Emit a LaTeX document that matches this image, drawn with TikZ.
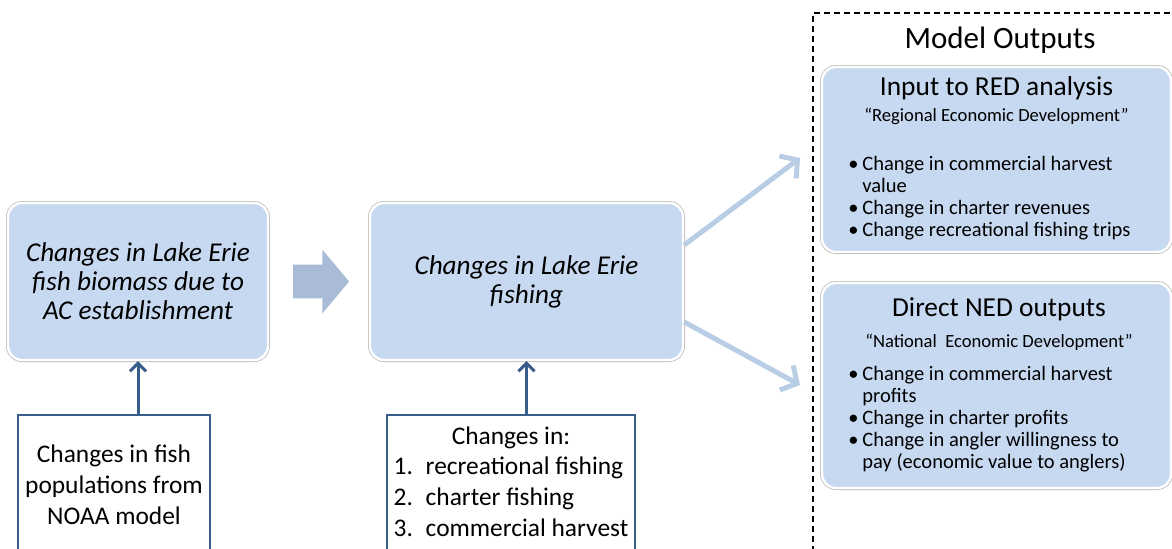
\documentclass[tikz,border=0pt]{standalone}
\usepackage{fontspec}
\setmainfont{Carlito}
\usetikzlibrary{positioning,arrows.meta,shapes.arrows}
\definecolor{paleblue}{HTML}{C6D9F1}
\definecolor{edgeblue}{HTML}{385D8A}
\definecolor{flowblue}{HTML}{B9CDE5}
\definecolor{pushblue}{HTML}{A9BBD7}

\begin{document}
\begin{tikzpicture}[
    x=0.5pt, y=-0.5pt,
    stage/.style={rectangle, rounded corners=7pt, fill=paleblue, draw=white, line width=1.2pt,
      preaction={draw=black!25, line width=2pt}, align=center, inner sep=0pt,
      font=\fontsize{13.6}{14.5}\selectfont\itshape},
    source/.style={rectangle, draw=edgeblue, line width=1.1pt, fill=white, inner sep=0pt,
      font=\fontsize{12.7}{15.5}\selectfont},
    outbox/.style={rectangle, rounded corners=7pt, fill=paleblue, draw=white, line width=1.2pt,
      preaction={draw=black!25, line width=2pt}, inner sep=0pt},
    boxtitle/.style={font=\fontsize{13.7}{16}\selectfont, inner sep=0pt},
    subtitle/.style={font=\fontsize{9.3}{11}\selectfont, inner sep=0pt},
    bullets/.style={font=\fontsize{10.25}{11}\selectfont, align=left, anchor=north west, inner sep=0pt},
    feed/.style={-{Straight Barb[length=4pt,width=8pt]}, edgeblue, line width=1.5pt},
    spread/.style={-{Straight Barb[length=6pt,width=14pt]}, flowblue, line width=2.5pt},
  ]
    \clip (0,0) rectangle (1172,548);
    \newcommand{\pt}[1]{\makebox[7pt][l]{\textbullet}#1}

    % ===== left column: biomass and its NOAA input =====
    \node[stage, minimum width=130pt, minimum height=78.5pt] (biomass) at (138,281.5)
      {Changes in Lake Erie\\fish biomass due to\\AC establishment};
    \node[source, align=center, minimum width=96pt, minimum height=70pt, anchor=north] (noaa) at (114,414)
      {Changes in fish\\populations from\\NOAA model};
    \draw[feed] (biomass.south |- noaa.north) -- (biomass.south);

    % fat arrow between the two stages
    \node[single arrow, fill=pushblue, minimum height=28pt, inner xsep=0pt, inner ysep=8.25pt,
      single arrow head extend=7.5pt, single arrow tip angle=100] (push) at (314,281.5) {};

    % ===== middle column: fishing =====
    \node[stage, minimum width=156.5pt, minimum height=78.5pt] (fishing) at (526.5,281.5)
      {Changes in Lake Erie\\fishing};
    \node[source, minimum width=124pt, minimum height=69pt, anchor=north,
      font=\fontsize{12.7}{15.3}\selectfont] (effort) at (511,414)
      {\begin{tabular}{@{}l@{}l@{}}
         \multicolumn{2}{c}{Changes in:}\\
         \makebox[16pt][l]{1.} & recreational fishing\\
         \makebox[16pt][l]{2.} & charter fishing\\
         \makebox[16pt][l]{3.} & commercial harvest
       \end{tabular}};
    \draw[feed] (fishing.south |- effort.north) -- (fishing.south);

    % ===== right column: model outputs =====
    \draw[dash pattern=on 3pt off 2pt, line width=0.7pt] (1180,13) -- (813,13) -- (813,560);
    \node[font=\fontsize{15.5}{18}\selectfont] (outputs) at (1000,40) {Model Outputs};

    \node[outbox, minimum width=174.5pt, minimum height=92.5pt] (red) at (996.5,159.5) {};
    \node[boxtitle] (redtitle) at (996.5,88) {Input to RED analysis};
    \node[subtitle] (redsub) at (996.5,116) {“Regional Economic Development”};
    \node[bullets] (redlist) at (848,156)
      {\pt{Change in commercial harvest}\\
       \hspace*{7pt}value\\
       \pt{Change in charter revenues}\\
       \pt{Change recreational fishing trips}};

    \node[outbox, minimum width=174.5pt, minimum height=102.5pt] (ned) at (996.5,385.5) {};
    \node[boxtitle] (nedtitle) at (999,309) {Direct NED outputs};
    \node[subtitle] (nedsub) at (999,342) {“National\ \ Economic Development”};
    \node[bullets] (nedlist) at (848,366)
      {\pt{Change in commercial harvest}\\
       \hspace*{7pt}profits\\
       \pt{Change in charter profits}\\
       \pt{Change in angler willingness to}\\
       \hspace*{7pt}pay (economic value to anglers)};

    % arrows from fishing to both output boxes
    \coordinate (redtip) at (800,158);
    \coordinate (nedtip) at (800,385);
    \draw[spread] ([yshift=18.25pt]fishing.east) -- (redtip);
    \draw[spread] ([yshift=-20.25pt]fishing.east) -- (nedtip);
\end{tikzpicture}
\end{document}
